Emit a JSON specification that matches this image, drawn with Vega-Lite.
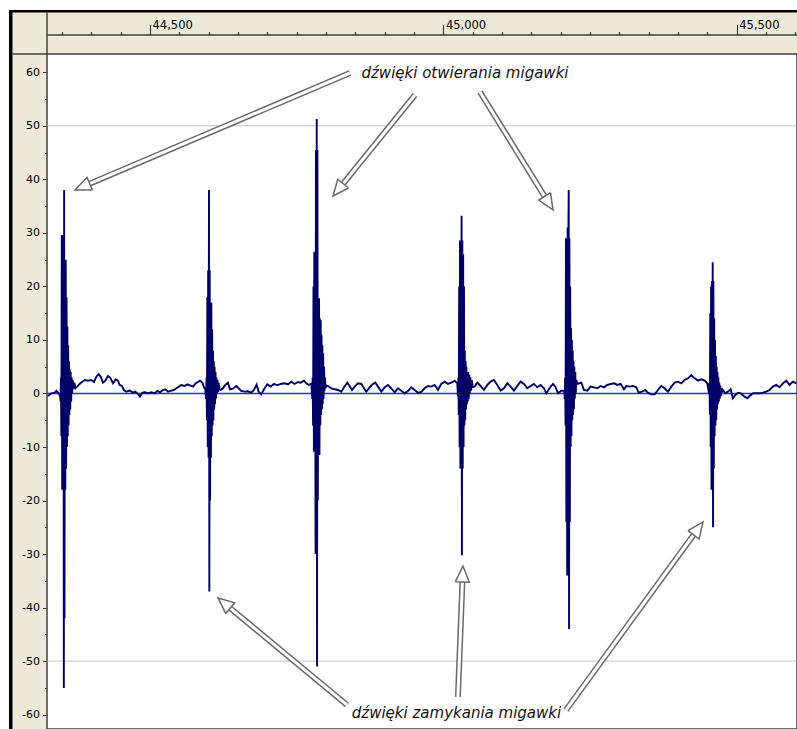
{
  "$schema": "https://vega.github.io/schema/vega-lite/v6.json",
  "width": 750,
  "height": 675,
  "autosize": "none",
  "padding": {"left": 47, "top": 54, "right": 0, "bottom": 0},
  "background": "#ECE9D8",
  "config": {"view": {"fill": "white", "stroke": "#404040", "strokeWidth": 1.5}},
  "resolve": {"axis": {"x": "independent", "y": "independent"}},
  "datasets": {
    "wave": [
      {"x":44326,"v":-0.47},{"x":44331.8,"v":0.03},{"x":44337.5,"v":0.15},{"x":44340.3,"v":0.47},{"x":44344.3,"v":0.03},{"x":44346.8,"v":-0.47},
      {"x":44347.5,"v":-1.5},{"x":44348.2,"v":3},{"x":44348.9,"v":-8},{"x":44349.6,"v":29.6},{"x":44350.3,"v":-18},{"x":44351,"v":29.6},{"x":44351.7,"v":-18},{"x":44352.4,"v":29.6},{"x":44353.1,"v":-55},{"x":44353.6,"v":38},{"x":44354.2,"v":-42},{"x":44354.9,"v":25},{"x":44355.6,"v":-18},{"x":44356.3,"v":25},{"x":44357,"v":-14},{"x":44357.7,"v":18},{"x":44358.4,"v":-10},{"x":44359.1,"v":12.5},{"x":44359.8,"v":-8},{"x":44360.5,"v":9},{"x":44361.2,"v":-6},{"x":44361.9,"v":6},{"x":44362.6,"v":-4},{"x":44363.3,"v":4.5},{"x":44364,"v":-3},{"x":44364.8,"v":4},{"x":44365.6,"v":-1.5},{"x":44366.4,"v":3},{"x":44367.3,"v":0},{"x":44368.3,"v":2.5},{"x":44369.5,"v":0.8},{"x":44371,"v":2},{"x":44373,"v":1},{"x":44375,"v":1.2},
      {"x":44380,"v":1.78},{"x":44382.9,"v":2.03},{"x":44388.6,"v":2.52},{"x":44394.3,"v":2.4},{"x":44400,"v":2.52},{"x":44404.5,"v":2.15},{"x":44408.5,"v":3.14},{"x":44412.5,"v":3.64},{"x":44415.9,"v":3.14},{"x":44419.8,"v":2.03},{"x":44423.8,"v":2.4},{"x":44428.3,"v":3.27},{"x":44432.9,"v":2.83},{"x":44436.9,"v":1.9},{"x":44441.4,"v":2.64},{"x":44445.4,"v":2.4},{"x":44448.2,"v":1.59},{"x":44452.2,"v":1.4},{"x":44455.6,"v":0.65},{"x":44459.6,"v":0.34},{"x":44465.3,"v":0.53},{"x":44471,"v":0.15},{"x":44474.9,"v":0.34},{"x":44479.5,"v":-0.1},{"x":44482.9,"v":-0.59},{"x":44486.9,"v":0.15},{"x":44492,"v":0.22},{"x":44496.5,"v":0.03},{"x":44502.2,"v":0.22},{"x":44507.9,"v":0.03},{"x":44512.4,"v":0.47},{"x":44517,"v":0.22},{"x":44522.1,"v":0.65},{"x":44526.1,"v":0.78},{"x":44530.6,"v":0.34},{"x":44536.3,"v":0.53},{"x":44540.8,"v":0.65},{"x":44544.8,"v":0.97},{"x":44549.3,"v":1.28},{"x":44553.3,"v":1.59},{"x":44559,"v":1.4},{"x":44563.5,"v":1.71},{"x":44569.2,"v":1.46},{"x":44573.8,"v":1.28},{"x":44577.7,"v":1.9},{"x":44581.7,"v":2.15},{"x":44585.1,"v":2.4},{"x":44589.1,"v":2.03},{"x":44592,"v":1.15},{"x":44594.2,"v":0.78},
      {"x":44595.5,"v":-1},{"x":44596.3,"v":3},{"x":44597,"v":-5},{"x":44597.7,"v":18},{"x":44598.4,"v":-10},{"x":44599.1,"v":23},{"x":44599.8,"v":-12},{"x":44600.5,"v":38},{"x":44601.1,"v":-37},{"x":44601.7,"v":23},{"x":44602.4,"v":-20},{"x":44603.1,"v":17},{"x":44603.8,"v":-12},{"x":44604.5,"v":17},{"x":44605.2,"v":-8},{"x":44605.9,"v":12},{"x":44606.6,"v":-6},{"x":44607.3,"v":8},{"x":44608,"v":-5},{"x":44608.7,"v":6},{"x":44609.4,"v":-3},{"x":44610.1,"v":5},{"x":44610.8,"v":-2},{"x":44611.6,"v":4},{"x":44612.4,"v":-1},{"x":44613.2,"v":3},{"x":44614,"v":0},{"x":44615,"v":2.5},{"x":44616,"v":0.3},{"x":44617,"v":2},{"x":44618.5,"v":0.8},
      {"x":44620.3,"v":0.65},{"x":44624.3,"v":0.97},{"x":44628.3,"v":1.59},{"x":44632.8,"v":2.03},{"x":44636.2,"v":0.78},{"x":44641.3,"v":0.9},{"x":44647,"v":1.4},{"x":44651,"v":0.97},{"x":44655.5,"v":0.47},{"x":44661.2,"v":0.34},{"x":44666.9,"v":0.4},{"x":44672.6,"v":0.15},{"x":44677.1,"v":0.65},{"x":44681.7,"v":1.65},{"x":44685.1,"v":0.34},{"x":44689.6,"v":-0.16},{"x":44694.2,"v":0.78},{"x":44699.9,"v":1.71},{"x":44705.5,"v":1.28},{"x":44711.2,"v":1.78},{"x":44716.9,"v":1.53},{"x":44722.6,"v":1.78},{"x":44729.4,"v":1.9},{"x":44735.1,"v":1.71},{"x":44740.7,"v":2.21},{"x":44746.4,"v":1.78},{"x":44752.1,"v":2.15},{"x":44756.7,"v":2.03},{"x":44762.4,"v":2.4},{"x":44766.4,"v":1.9},{"x":44770.4,"v":1.59},{"x":44774.9,"v":1.78},
      {"x":44776.5,"v":-1},{"x":44777.2,"v":3},{"x":44777.9,"v":-6},{"x":44778.6,"v":20},{"x":44779.3,"v":-10.9},{"x":44780,"v":26.5},{"x":44780.7,"v":-10.9},{"x":44781.4,"v":26.5},{"x":44782.1,"v":-30},{"x":44782.8,"v":45.5},{"x":44783.5,"v":-30},{"x":44784.1,"v":51.3},{"x":44784.7,"v":-51},{"x":44785.3,"v":45.5},{"x":44786,"v":-20},{"x":44786.7,"v":17.8},{"x":44787.4,"v":-11.5},{"x":44788.1,"v":17.8},{"x":44788.8,"v":-11.5},{"x":44789.5,"v":14},{"x":44790.2,"v":-6},{"x":44790.9,"v":13.7},{"x":44791.6,"v":-4},{"x":44792.3,"v":11},{"x":44793,"v":-3},{"x":44793.7,"v":9},{"x":44794.4,"v":-2},{"x":44795.1,"v":7.5},{"x":44795.8,"v":-1},{"x":44796.6,"v":5},{"x":44797.4,"v":0.5},{"x":44798.2,"v":3},{"x":44799,"v":1},{"x":44800.5,"v":1.5},
      {"x":44803.3,"v":1.4},{"x":44809,"v":0.97},{"x":44814.7,"v":0.78},{"x":44820.4,"v":0.65},{"x":44826,"v":0.34},{"x":44830.6,"v":1.15},{"x":44836.3,"v":2.03},{"x":44840.2,"v":1.4},{"x":44844.2,"v":0.65},{"x":44848.8,"v":1.28},{"x":44854.4,"v":1.9},{"x":44860.1,"v":1.78},{"x":44864.7,"v":0.97},{"x":44868.6,"v":0.34},{"x":44874.3,"v":1.15},{"x":44880,"v":1.78},{"x":44884,"v":2.03},{"x":44888.5,"v":1.28},{"x":44894.2,"v":0.34},{"x":44899.9,"v":1.15},{"x":44905.6,"v":1.59},{"x":44911.2,"v":0.97},{"x":44916.9,"v":0.22},{"x":44922.6,"v":0.97},{"x":44928.3,"v":0.53},{"x":44934,"v":0.03},{"x":44939.6,"v":0.47},{"x":44945.3,"v":1.15},{"x":44951,"v":0.65},{"x":44956.7,"v":0.15},{"x":44962.4,"v":0.28},{"x":44968,"v":0.97},{"x":44973.7,"v":1.4},{"x":44979.4,"v":1.28},{"x":44985.1,"v":1.59},{"x":44990.8,"v":0.65},{"x":44996.4,"v":1.78},{"x":45002.1,"v":2.21},{"x":45007.8,"v":1.78},{"x":45013.5,"v":2.03},{"x":45019.2,"v":2.4},{"x":45023.7,"v":1.9},
      {"x":45024.8,"v":-0.5},{"x":45025.5,"v":3},{"x":45026.2,"v":-4},{"x":45026.9,"v":20},{"x":45027.6,"v":-10},{"x":45028.3,"v":28.6},{"x":45029,"v":-14},{"x":45029.7,"v":28.6},{"x":45030.4,"v":-14},{"x":45031,"v":33.2},{"x":45031.6,"v":-30.2},{"x":45032.3,"v":28.6},{"x":45033,"v":-14},{"x":45033.7,"v":26},{"x":45034.4,"v":-10},{"x":45035.1,"v":20},{"x":45035.8,"v":-6},{"x":45036.5,"v":8},{"x":45037.2,"v":-5},{"x":45037.9,"v":6},{"x":45038.6,"v":-3},{"x":45039.3,"v":5},{"x":45040,"v":-2},{"x":45040.8,"v":4},{"x":45041.6,"v":-1.5},{"x":45042.4,"v":4},{"x":45043.3,"v":-1},{"x":45044.2,"v":3.5},{"x":45045.1,"v":0},{"x":45046,"v":3},{"x":45047.3,"v":0.5},{"x":45048.6,"v":2.5},{"x":45050,"v":1.2},
      {"x":45053.2,"v":1.28},{"x":45057.8,"v":2.03},{"x":45063.5,"v":1.4},{"x":45069.1,"v":0.65},{"x":45074.8,"v":1.59},{"x":45080.5,"v":2.21},{"x":45086.2,"v":2.52},{"x":45091.9,"v":1.59},{"x":45097.5,"v":0.53},{"x":45103.2,"v":0.97},{"x":45108.9,"v":1.9},{"x":45114.6,"v":1.28},{"x":45120.3,"v":0.53},{"x":45125.9,"v":1.4},{"x":45131.6,"v":2.21},{"x":45137.3,"v":1.78},{"x":45143,"v":0.97},{"x":45148.7,"v":1.4},{"x":45154.3,"v":1.78},{"x":45160,"v":1.15},{"x":45165.7,"v":1.59},{"x":45171.4,"v":0.97},{"x":45175.4,"v":0.03},{"x":45178.2,"v":0.53},{"x":45182.8,"v":1.28},{"x":45186.8,"v":1.78},{"x":45190.8,"v":1.28},{"x":45195.3,"v":0.03},{"x":45201,"v":0.53},
      {"x":45206,"v":0.5},{"x":45206.8,"v":-1},{"x":45207.5,"v":3},{"x":45208.2,"v":-6},{"x":45208.9,"v":29},{"x":45209.6,"v":-24},{"x":45210.3,"v":29},{"x":45211,"v":-34},{"x":45211.7,"v":31},{"x":45212.4,"v":-34},{"x":45213.1,"v":31},{"x":45213.6,"v":38},{"x":45214.2,"v":-44},{"x":45214.8,"v":29},{"x":45215.5,"v":-24},{"x":45216.2,"v":20},{"x":45216.9,"v":-10},{"x":45217.6,"v":12.2},{"x":45218.3,"v":-8},{"x":45219,"v":10},{"x":45219.7,"v":-5},{"x":45220.4,"v":8},{"x":45221.1,"v":-4},{"x":45221.8,"v":6},{"x":45222.5,"v":-3},{"x":45223.2,"v":5},{"x":45224,"v":-1},{"x":45224.8,"v":4},{"x":45225.6,"v":0},{"x":45226.5,"v":2.5},
      {"x":45228.3,"v":1.78},{"x":45235.1,"v":2.03},{"x":45239.6,"v":0.65},{"x":45245.3,"v":0.53},{"x":45251,"v":1.28},{"x":45256.7,"v":1.15},{"x":45262.4,"v":0.97},{"x":45268,"v":1.4},{"x":45273.7,"v":1.15},{"x":45279.4,"v":1.59},{"x":45285.1,"v":1.78},{"x":45290.8,"v":1.9},{"x":45296.4,"v":1.59},{"x":45302.1,"v":1.78},{"x":45307.8,"v":0.78},{"x":45311.8,"v":1.4},{"x":45317.5,"v":1.28},{"x":45323.1,"v":1.4},{"x":45328.8,"v":1.15},{"x":45332.8,"v":0.15},{"x":45338.5,"v":0.34},{"x":45344.2,"v":0.65},{"x":45348.7,"v":0.15},{"x":45354.4,"v":-0.16},{"x":45360.1,"v":-0.16},{"x":45365.7,"v":0.65},{"x":45371.4,"v":1.4},{"x":45377.1,"v":0.97},{"x":45382.8,"v":0.34},{"x":45388.5,"v":1.28},{"x":45394.1,"v":2.03},{"x":45399.8,"v":2.21},{"x":45405.5,"v":1.9},{"x":45411.2,"v":2.52},{"x":45416.9,"v":2.83},{"x":45422.5,"v":3.45},{"x":45428.2,"v":2.83},{"x":45433.9,"v":2.4},{"x":45439.6,"v":2.64},{"x":45445.3,"v":2.4},{"x":45449.8,"v":1.9},
      {"x":45452.8,"v":0},{"x":45453.5,"v":2},{"x":45454.2,"v":-4},{"x":45454.9,"v":15},{"x":45455.6,"v":-10},{"x":45456.3,"v":20},{"x":45457,"v":-18},{"x":45457.7,"v":21},{"x":45458.4,"v":-18},{"x":45459,"v":24.5},{"x":45459.6,"v":-25},{"x":45460.2,"v":21},{"x":45460.9,"v":-14},{"x":45461.6,"v":14},{"x":45462.3,"v":-8},{"x":45463,"v":10},{"x":45463.7,"v":-6},{"x":45464.4,"v":7},{"x":45465.1,"v":-5},{"x":45465.8,"v":5},{"x":45466.5,"v":-3},{"x":45467.2,"v":4},{"x":45467.9,"v":-2},{"x":45468.7,"v":3},{"x":45469.5,"v":-1.5},{"x":45470.3,"v":2},{"x":45471.1,"v":-1},{"x":45472,"v":1.5},{"x":45473,"v":-0.5},{"x":45474,"v":1},{"x":45475,"v":0.2},
      {"x":45476.5,"v":0.65},{"x":45480.5,"v":0.03},{"x":45485,"v":0.34},{"x":45489.6,"v":0.78},{"x":45493.5,"v":-0.9},{"x":45497.5,"v":-0.28},{"x":45502.1,"v":0.15},{"x":45506.6,"v":0.03},{"x":45513.4,"v":-0.59},{"x":45518,"v":-0.9},{"x":45521.9,"v":-0.47},{"x":45527.6,"v":0.03},{"x":45533.3,"v":0.03},{"x":45539,"v":0.03},{"x":45544.7,"v":0.15},{"x":45550.3,"v":0.34},{"x":45556,"v":0.65},{"x":45561.7,"v":1.28},{"x":45567.4,"v":1.59},{"x":45573,"v":1.15},{"x":45578.7,"v":1.9},{"x":45584.4,"v":2.4},{"x":45590.1,"v":1.59},{"x":45595.7,"v":2.21},{"x":45601.4,"v":1.9}
    ],
    "shafts": [
      {"a":1,"x":44840.8,"y":59.87,"x2":44397.2,"y2":39.19},
      {"a":2,"x":44951.6,"y":55.76,"x2":44829.1,"y2":39.21},
      {"a":3,"x":45062.4,"y":56.32,"x2":45172.5,"y2":36.82},
      {"a":4,"x":44835.7,"y":-58.19,"x2":44636.8,"y2":-40.11},
      {"a":5,"x":45024.8,"y":-56.7,"x2":45032.4,"y2":-35.21},
      {"a":6,"x":45209.0,"y":-59.13,"x2":45426.3,"y2":-26.42}
    ],
    "heads": [
      {"a":1,"k":0,"x":44401.8,"y":38.0},{"a":1,"k":1,"x":44372.1,"y":38.02},{"a":1,"k":2,"x":44392.6,"y":40.39},{"a":1,"k":3,"x":44401.8,"y":38.0},
      {"a":2,"k":0,"x":44838.3,"y":38.39},{"a":2,"k":1,"x":44811.9,"y":36.9},{"a":2,"k":2,"x":44819.9,"y":40.03},{"a":2,"k":3,"x":44838.3,"y":38.39},
      {"a":3,"k":0,"x":45182.6,"y":37.51},{"a":3,"k":1,"x":45186.8,"y":34.28},{"a":3,"k":2,"x":45162.5,"y":36.13},{"a":3,"k":3,"x":45182.6,"y":37.51},
      {"a":4,"k":0,"x":44629.1,"y":-41.12},{"a":4,"k":1,"x":44615.9,"y":-38.2},{"a":4,"k":2,"x":44644.4,"y":-39.1},{"a":4,"k":3,"x":44629.1,"y":-41.12},
      {"a":5,"k":0,"x":45020.4,"y":-35.16},{"a":5,"k":1,"x":45033.4,"y":-32.23},{"a":5,"k":2,"x":45044.3,"y":-35.27},{"a":5,"k":3,"x":45020.4,"y":-35.16},
      {"a":6,"k":0,"x":45416.8,"y":-25.63},{"a":6,"k":1,"x":45442.5,"y":-24.0},{"a":6,"k":2,"x":45435.8,"y":-27.2},{"a":6,"k":3,"x":45416.8,"y":-25.63}
    ],
    "labels": [
      {"t":"dźwięki otwierania migawki","x":45036.8,"y":59.87},
      {"t":"dźwięki zamykania migawki","x":45022.3,"y":-59.69}
    ],
    "grid": [{"g":50},{"g":-50}],
    "zero": [{"z":0}]
  },
  "layer": [
    {
      "data": {"values": [{}]},
      "mark": {"type": "rect", "color": "white"},
      "encoding": {
        "x": {"datum": 44200, "type": "quantitative", "scale": {"domain": [44324.4, 45602.7], "nice": false, "zero": false}, "axis": null},
        "x2": {"datum": 45700},
        "y": {"datum": 71.64, "type": "quantitative", "scale": {"domain": [-62.68, 63.42], "nice": false, "zero": false}, "axis": null},
        "y2": {"datum": 76}
      }
    },
    {
      "data": {"values": [{}]},
      "mark": {"type": "rect", "color": "white"},
      "encoding": {
        "x": {"datum": 44200, "type": "quantitative", "scale": {"domain": [44324.4, 45602.7], "nice": false, "zero": false}, "axis": null},
        "x2": {"datum": 44259.6},
        "y": {"datum": -70, "type": "quantitative", "scale": {"domain": [-62.68, 63.42], "nice": false, "zero": false}, "axis": null},
        "y2": {"datum": 76}
      }
    },
    {
      "data": {"values": [{}]},
      "mark": {"type": "rect", "color": "black"},
      "encoding": {
        "x": {"datum": 44259.6, "type": "quantitative", "scale": {"domain": [44324.4, 45602.7], "nice": false, "zero": false}, "axis": null},
        "x2": {"datum": 45700},
        "y": {"datum": 71.17, "type": "quantitative", "scale": {"domain": [-62.68, 63.42], "nice": false, "zero": false}, "axis": null},
        "y2": {"datum": 71.64}
      }
    },
    {
      "data": {"values": [{}]},
      "mark": {"type": "rect", "color": "black"},
      "encoding": {
        "x": {"datum": 44259.6, "type": "quantitative", "scale": {"domain": [44324.4, 45602.7], "nice": false, "zero": false}, "axis": null},
        "x2": {"datum": 44265.6},
        "y": {"datum": -70, "type": "quantitative", "scale": {"domain": [-62.68, 63.42], "nice": false, "zero": false}, "axis": null},
        "y2": {"datum": 71.64}
      }
    },
    {
      "data": {"values": [{}]},
      "mark": {"type": "rule", "color": "#404040", "strokeWidth": 1.5},
      "encoding": {
        "x": {"datum": 44324.4, "type": "quantitative", "scale": {"domain": [44324.4, 45602.7], "nice": false, "zero": false}, "axis": null},
        "y": {"datum": 71.17, "type": "quantitative", "scale": {"domain": [-62.68, 63.42], "nice": false, "zero": false}, "axis": null},
        "y2": {"datum": 63.42}
      }
    },
    {
      "data": {"values": [{}]},
      "mark": {"type": "rule", "color": "#404040", "strokeWidth": 1.5},
      "encoding": {
        "x": {"datum": 44265.6, "type": "quantitative", "scale": {"domain": [44324.4, 45602.7], "nice": false, "zero": false}, "axis": null},
        "x2": {"datum": 44324.4},
        "y": {"datum": 63.42, "type": "quantitative", "scale": {"domain": [-62.68, 63.42], "nice": false, "zero": false}, "axis": null}
      }
    },
    {
      "data": {"name": "grid"},
      "mark": {"type": "rule", "color": "#c4c4c4", "strokeWidth": 1},
      "encoding": {
        "y": {"field": "g", "type": "quantitative", "scale": {"domain": [-62.68, 63.42], "nice": false, "zero": false}, "axis": null}
      }
    },
    {
      "data": {"name": "zero"},
      "mark": {"type": "rule", "color": "#2a2aff", "strokeWidth": 1.6},
      "encoding": {
        "y": {"field": "z", "type": "quantitative", "scale": {"domain": [-62.68, 63.42], "nice": false, "zero": false}, "axis": null}
      }
    },
    {
      "data": {"name": "wave"},
      "mark": {"type": "line", "color": "#000066", "strokeWidth": 1.9, "clip": true},
      "encoding": {
        "x": {
          "field": "x", "type": "quantitative",
          "scale": {"domain": [44324.4, 45602.7], "nice": false, "zero": false},
          "axis": {
            "orient": "top", "offset": 19.5, "title": null, "grid": false,
            "values": [44500, 45000, 45500],
            "domainColor": "#404040", "domainWidth": 1.2,
            "tickColor": "#404040", "tickWidth": 1.2, "tickSize": 10,
            "labelExpr": "format(datum.value, ',d')",
            "labelAlign": "left", "labelBaseline": "alphabetic", "labelOffset": 2, "labelPadding": -4,
            "labelFont": "DejaVu Sans", "labelFontSize": 11.5, "labelColor": "black",
            "labelFlush": false, "labelOverlap": false, "labelBound": false
          }
        },
        "y": {
          "field": "v", "type": "quantitative",
          "scale": {"domain": [-62.68, 63.42], "nice": false, "zero": false},
          "axis": {
            "orient": "left", "title": null, "grid": false, "domain": false,
            "values": [-60,-50,-40,-30,-20,-10,0,10,20,30,40,50,60],
            "tickColor": "#404040", "tickWidth": 1, "tickSize": 4.5,
            "labelExpr": "'' + datum.value",
            "labelPadding": 3,
            "labelFont": "DejaVu Sans", "labelFontSize": 11, "labelColor": "black",
            "labelOverlap": false, "labelFlush": false, "labelBound": false
          }
        }
      }
    },
    {
      "data": {"name": "shafts"},
      "mark": {"type": "rule", "color": "#6a6a6a", "strokeWidth": 6, "strokeCap": "butt"},
      "encoding": {
        "x": {
          "field": "x", "type": "quantitative",
          "scale": {"domain": [44324.4, 45602.7], "nice": false, "zero": false},
          "axis": {
            "orient": "top", "offset": 19.5, "title": null, "grid": false, "labels": false,
            "values": [44350,44400,44450,44550,44600,44650,44700,44750,44800,44850,44900,44950,45050,45100,45150,45200,45250,45300,45350,45400,45450,45550,45600],
            "domainColor": "#404040", "domainWidth": 1.2,
            "tickColor": "#404040", "tickWidth": 1.2, "tickSize": 3
          }
        },
        "x2": {"field": "x2"},
        "y": {
          "field": "y", "type": "quantitative",
          "scale": {"domain": [-62.68, 63.42], "nice": false, "zero": false},
          "axis": {
            "orient": "left", "title": null, "grid": false, "domain": false, "labels": false,
            "values": [-55,-45,-35,-25,-15,-5,5,15,25,35,45,55],
            "tickColor": "#404040", "tickWidth": 1, "tickSize": 2.5
          }
        },
        "y2": {"field": "y2"}
      }
    },
    {
      "data": {"name": "shafts"},
      "mark": {"type": "rule", "color": "white", "strokeWidth": 3, "strokeCap": "butt"},
      "encoding": {
        "x": {"field": "x", "type": "quantitative", "scale": {"domain": [44324.4, 45602.7], "nice": false, "zero": false}, "axis": null},
        "x2": {"field": "x2"},
        "y": {"field": "y", "type": "quantitative", "scale": {"domain": [-62.68, 63.42], "nice": false, "zero": false}, "axis": null},
        "y2": {"field": "y2"}
      }
    },
    {
      "data": {"name": "heads"},
      "mark": {"type": "line", "color": "#6a6a6a", "strokeWidth": 1.5, "strokeJoin": "miter"},
      "encoding": {
        "x": {"field": "x", "type": "quantitative", "scale": {"domain": [44324.4, 45602.7], "nice": false, "zero": false}, "axis": null},
        "y": {"field": "y", "type": "quantitative", "scale": {"domain": [-62.68, 63.42], "nice": false, "zero": false}, "axis": null},
        "detail": {"field": "a", "type": "nominal"},
        "order": {"field": "k", "type": "quantitative"}
      }
    },
    {
      "data": {"name": "labels"},
      "mark": {"type": "text", "font": "DejaVu Sans", "fontStyle": "italic", "fontSize": 15, "color": "#111111", "align": "center", "baseline": "middle"},
      "encoding": {
        "x": {"field": "x", "type": "quantitative", "scale": {"domain": [44324.4, 45602.7], "nice": false, "zero": false}, "axis": null},
        "y": {"field": "y", "type": "quantitative", "scale": {"domain": [-62.68, 63.42], "nice": false, "zero": false}, "axis": null},
        "text": {"field": "t", "type": "nominal"}
      }
    }
  ]
}
